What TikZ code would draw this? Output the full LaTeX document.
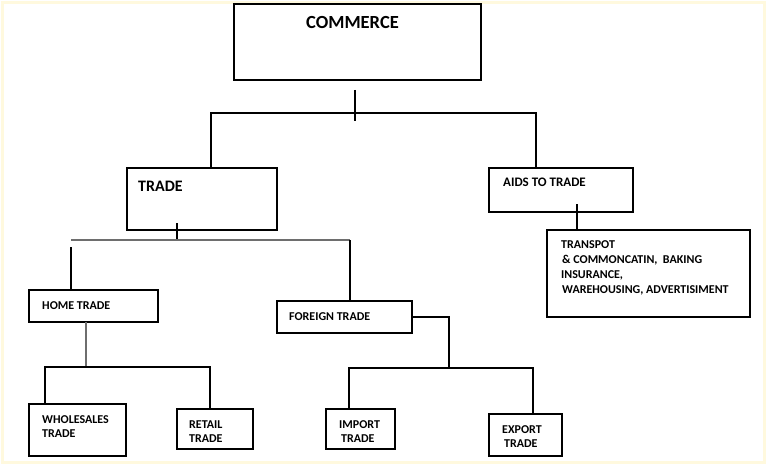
\documentclass[tikz,border=0pt]{standalone}
\usepackage{fontspec}
\setmainfont{Carlito}
\definecolor{framecol}{RGB}{255, 249, 222}
\definecolor{greyline}{RGB}{110, 110, 110}

\tikzset{
	box/.style={draw=black, line width=1.2pt, anchor=north west, inner sep=0pt, outer sep=0pt},
	txt/.style={anchor=base west, inner sep=0pt, align=left, font=\bfseries\fontsize{12}{14}\selectfont},
	link/.style={draw=black, line width=1.2pt}
}

\begin{document}
\begin{tikzpicture}[x=1pt, y=-1pt]
			\useasboundingbox (0,0) rectangle (767,465);
			\draw [framecol, line width=3pt] (2.5,2.5) rectangle (764.5,462.5);

			% boxes
			\node [box, minimum width=247, minimum height=76] (commerce) at (234,4) {};
			\node [box, minimum width=150, minimum height=62] (trade) at (127,168) {};
			\node [box, minimum width=144, minimum height=44] (aids) at (489,168) {};
			\node [box, minimum width=203, minimum height=87] (transp) at (547,230) {};
			\node [box, minimum width=129, minimum height=32] (home) at (29,290) {};
			\node [box, minimum width=135, minimum height=32] (foreign) at (277,301) {};
			\node [box, minimum width=97, minimum height=52] (wholesale) at (29,404) {};
			\node [box, minimum width=76, minimum height=40] (retail) at (177,409) {};
			\node [box, minimum width=69, minimum height=40] (import) at (326,409) {};
			\node [box, minimum width=73, minimum height=42] (export) at (489,414) {};

			% labels (base = last line)
			\node [txt, font=\bfseries\fontsize{18.5}{22}\selectfont] (commercetxt) at (306,28.5) {COMMERCE};
			\node [txt, font=\bfseries\fontsize{16}{19}\selectfont] (tradetxt) at (138,191) {TRADE};
			\node [txt, font=\bfseries\fontsize{13}{15}\selectfont] (aidstxt) at (503,186) {AIDS TO TRADE};
			\node [txt, font=\bfseries\fontsize{12}{14.7}\selectfont] (transptxt) at (561,293)
				{TRANSPOT\\\hspace{1pt}\& COMMONCATIN,~ BAKING\\INSURANCE,\\\hspace{1pt}WAREHOUSING, ADVERTISIMENT};
			\node [txt] (hometxt) at (42,309) {HOME TRADE};
			\node [txt] (foreigntxt) at (289,320) {FOREIGN TRADE};
			\node [txt] (wholesaletxt) at (42,437) {WHOLESALES\\TRADE};
			\node [txt] (retailtxt) at (189,442) {RETAIL\\TRADE};
			\node [txt] (importtxt) at (339,442) {IMPORT\\\hspace{2pt}TRADE};
			\node [txt] (exporttxt) at (502,447) {EXPORT\\\hspace{2pt}TRADE};

			% junctions
			\coordinate (cstubtop) at (355,90);
			\coordinate (cstubbot) at (355,121);
			\coordinate (bar1l) at (211,113);
			\coordinate (bar1r) at (536,113);
			\coordinate (tstub) at (177,223);
			\coordinate (bar2l) at (71,240);
			\coordinate (bar2r) at (350,240);
			\coordinate (homestub) at (71,247);
			\coordinate (bar3m) at (86,367);
			\coordinate (bar3l) at (45,367);
			\coordinate (bar3r) at (210,367);
			\coordinate (bar4m) at (449,368);
			\coordinate (bar4l) at (349,368);
			\coordinate (bar4r) at (533,368);
			\coordinate (astub) at (577,204);

			% connectors
			\draw [link] (cstubtop) -- (cstubbot);
			\draw [link] (trade.north -| bar1l) -- (bar1l) -- (bar1r) -- (aids.north -| bar1r);
			\draw [link] (tstub) -- (tstub |- bar2l);
			\draw [link, draw=greyline] (bar2l) -- (bar2r);
			\draw [link] (bar2r) -- (foreign.north -| bar2r);
			\draw [link] (homestub) -- (home.north -| homestub);
			\draw [link, draw=greyline] (home.south -| bar3m) -- (bar3m);
			\draw [link] (wholesale.north -| bar3l) -- (bar3l) -- (bar3r) -- (retail.north -| bar3r);
			\draw [link] (foreign.east) -| (bar4m);
			\draw [link] (import.north -| bar4l) -- (bar4l) -- (bar4r) -- (export.north -| bar4r);
			\draw [link] (astub) -- (transp.north -| astub);
		\end{tikzpicture}
\end{document}
